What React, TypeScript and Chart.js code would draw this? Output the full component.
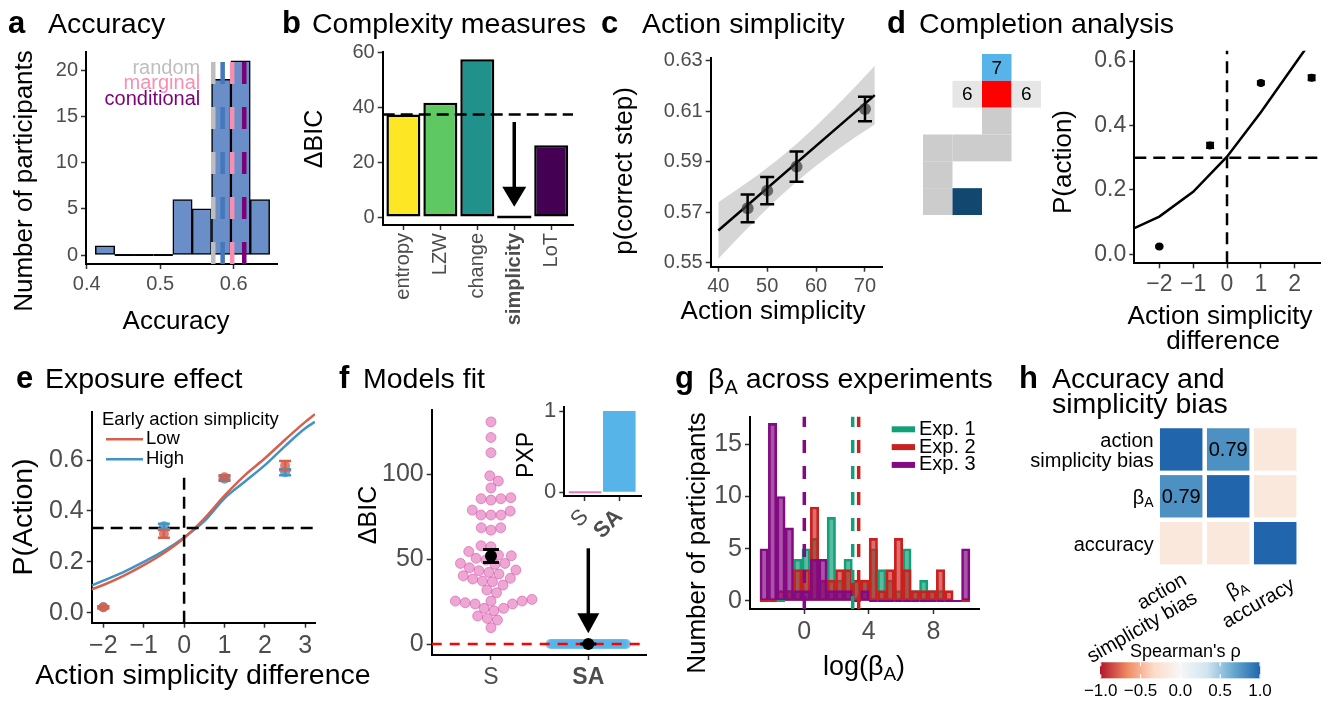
import React, { useEffect, useRef } from 'react';
import { Chart, registerables } from 'chart.js';

Chart.register(...registerables);

const FONT = "'Liberation Sans', Arial, Helvetica, sans-serif";
Chart.defaults.font.family = FONT;

/* ====================== DATA ====================== */
// (a) accuracy histogram
const aBinEdges = [0.4117, 0.4381, 0.4644, 0.4908, 0.5172, 0.5435, 0.5699, 0.5963, 0.6226, 0.649];
const aCounts = [1, 0, 0, 0, 6, 5, 19, 21, 6];
const aRefLabels = ['random', 'marginal', 'conditional'];
const aRefAccuracy = [0.5722, 0.598, 0.6144];
const aMeanAccuracy = 0.585;

// (b) complexity measures
const bMeasures = ['entropy', 'LZW', 'change', 'simplicity', 'LoT'];
const bDeltaBIC = [37.3, 41.6, 57.5, 0, 26.1];
const bReferenceBIC = 37.3;
const bArrow = [34.6, 3.7];

// (c) action simplicity
const cSimplicity = [46, 50, 56, 70];
const cPCorrect = [0.5716, 0.5786, 0.5881, 0.6109];
const cSE = [0.0055, 0.0054, 0.006, 0.0048];
const cFitX = [40, 72];
const cFitY = [0.5628, 0.6164];
const cBandX = [40, 44, 48, 52, 56, 60, 64, 68, 72];
const cBandLo = [0.5516, 0.5598, 0.5677, 0.5752, 0.5821, 0.5884, 0.5943, 0.5997, 0.6048];
const cBandHi = [0.574, 0.5792, 0.5847, 0.5906, 0.5971, 0.6042, 0.6118, 0.6197, 0.628];

// (d) completion analysis
const dDiff = [-2, -0.5, 1, 2.5];
const dPAction = [0.024, 0.338, 0.532, 0.548];
const dSE = [0.003, 0.008, 0.005, 0.008];
const dCurveX = [-2.74, -2, -1, 0, 1, 2, 2.74];
const dCurveY = [0.081, 0.117, 0.194, 0.303, 0.441, 0.59, 0.7];
const dChance = 0.3;
const dGridCol = [2, 1, 2, 3, 2, 0, 1, 2, 0, 0, 1];
const dGridRow = [0, 1, 1, 1, 2, 3, 3, 3, 4, 5, 5];
const dGridKind = ['next', 'option', 'current', 'option', 'path', 'path', 'path', 'path', 'path', 'path', 'start'];
const dGridLabel = ['7', '6', '', '6', '', '', '', '', '', '', ''];

// (e) exposure effect
const eCurveX = [-2.29, -2, -1.5, -1, -0.5, 0, 0.5, 1, 1.5, 2, 2.5, 3, 3.24];
const eLowCurve = [0.092, 0.109, 0.145, 0.187, 0.235, 0.294, 0.37, 0.46, 0.54, 0.607, 0.68, 0.75, 0.78];
const eHighCurve = [0.107, 0.126, 0.16, 0.2, 0.243, 0.296, 0.36, 0.45, 0.515, 0.58, 0.655, 0.725, 0.75];
const eDiff = [-2, -0.5, 1, 2.5];
const eLowP = [0.022, 0.31, 0.532, 0.578];
const eLowSE = [0.004, 0.015, 0.008, 0.018];
const eHighP = [0.022, 0.34, 0.527, 0.552];
const eHighSE = [0.004, 0.01, 0.008, 0.012];
const eChance = 0.333;
const eVLineTop = 0.535;

// (f) models fit
const fModels = ['S', 'SA'];
const fDeltaS = [130.9, 121.7, 112.7, 99.1, 96.0, 92.0, 86.2, 85.6, 84.8, 85.6, 78.9, 76.0, 76.0, 76.0, 78.3, 68.5, 67.1, 68.5, 57.9, 57.3, 52.4, 49.5, 50.5, 47.5, 47.5, 44.9, 46.9, 41.2, 43.2, 42.2, 43.6, 37.1, 34.7, 38.7, 38.3, 36.7, 40.2, 30.2, 31.8, 23.6, 25.3, 24.3, 26.3, 23.6, 25.3, 25.3, 21.0, 19.6, 21.0, 16.5, 14.1, 15.1, 9.6, 52.0, 54.5];
const fDeltaSA = [0, 0, 0, 0, 0, 0, 0, 0, 0, 0, 0, 0, 0, 0, 0, 0, 0, 0, 0, 0, 0, 0, 0, 0, 0, 0, 0, 0, 0, 0, 0, 0, 0, 0, 0, 0, 0, 0, 0, 0, 0, 0, 0, 0, 0, 0, 0, 0, 0, 0, 0, 0, 0, 0, 0];
const fMean = [51.9, 0];
const fSE = [3.8, 0];
const fPXP = [0, 1];
const fArrow = [56.4, 6.3];

// (g) beta_A across experiments
const gBinEdges = [-2.75, -2.229, -1.708, -1.188, -0.667, -0.146, 0.375, 0.896, 1.416, 1.937, 2.458, 2.979, 3.5, 4.02, 4.541, 5.062, 5.583, 6.104, 6.624, 7.145, 7.666, 8.187, 8.708, 9.229, 9.749, 10.27];
const gExp1 = [0, 0, 0, 1, 4, 5, 6, 2, 8, 2, 4, 2, 2, 5, 3, 2, 1, 5, 1, 2, 1, 1, 0, 0, 0];
const gExp2 = [0, 0, 1, 1, 3, 3, 9, 2, 2, 3, 3, 2, 2, 6, 1, 3, 6, 3, 1, 1, 1, 3, 1, 0, 0];
const gExp3 = [5, 17, 10, 7, 1, 1, 4, 4, 1, 1, 1, 0, 1, 0, 0, 0, 0, 0, 0, 0, 0, 0, 0, 0, 5];
const gExpNames = ['Exp. 1', 'Exp. 2', 'Exp. 3'];
const gMedianLog = [3.0, 3.37, 0.0];

// (h) correlations
const hVars = ['action\nsimplicity bias', 'β_A', 'accuracy'];
const hRho = [
  [1, 0.79, -0.18],
  [0.79, 1, -0.18],
  [-0.18, -0.18, 1],
];
const hLegendTicks = [-1, -0.5, 0, 0.5, 1];

/* ====================== STYLE / LAYOUT ====================== */
const TICK = '#4d4d4d';
const A_REF_COLORS = ['#bebebe', '#f88fb0', '#7a0177'];
const A_MEAN_COLOR = '#4477bb';
const B_COLORS = ['#fde725', '#5ec962', '#21918c', '#3b528b', '#440154'];
const D_KIND_COLOR: any = { next: '#56b4e9', option: '#e6e6e6', current: '#ff0000', path: '#cccccc', start: '#124870' };
const E_LOW = '#d6604d';
const E_HIGH = '#4393c3';
const F_PINK = '#e377c2';
const F_BLUE = '#56b4e9';
const G_LINE = ['#13a079', '#c9211e', '#830a83'];
const G_FILL = ['rgba(19,160,121,0.7)', 'rgba(201,33,30,0.65)', 'rgba(131,10,131,0.7)'];
const RDBU = ['#b2182b', '#ef8a62', '#fddbc7', '#f7f7f7', '#d1e5f0', '#67a9cf', '#2166ac'];

const A_RECT = { left: 0, top: 30, width: 290, height: 320 };
const A_AREA = { x0: 86, y0: 52, x1: 277, y1: 264 };
const B_RECT = { left: 280, top: 30, width: 300, height: 320 };
const B_AREA = { x0: 382.7, y0: 52, x1: 573, y1: 225 };
const C_RECT = { left: 580, top: 35, width: 310, height: 315 };
const C_AREA = { x0: 710.7, y0: 57.7, x1: 882.6, y1: 266.7 };
const DG_RECT = { left: 923, top: 54, width: 118, height: 161 };
const D_RECT = { left: 1040, top: 30, width: 290, height: 330 };
const D_AREA = { x0: 1134.3, y0: 50.7, x1: 1320, y1: 263.3 };
const E_RECT = { left: 0, top: 390, width: 385, height: 314 };
const E_AREA = { x0: 91.7, y0: 411.7, x1: 315, y1: 622.7 };
const F_RECT = { left: 335, top: 388, width: 320, height: 316 };
const F_AREA = { x0: 431.7, y0: 410, x1: 646.7, y1: 655 };
const F_RANGE = { xmin: -0.609, xmax: 1.6, ymin: -6.48, ymax: 137.9 };
const FI_RECT = { left: 505, top: 388, width: 145, height: 152 };
const FI_AREA = { x0: 564.3, y0: 406.7, x1: 641.7, y1: 496 };
const G_RECT = { left: 640, top: 395, width: 345, height: 309 };
const G_AREA = { x0: 750, y0: 416.7, x1: 979.3, y1: 609 };
const H_RECT = { left: 1000, top: 420, width: 330, height: 280 };
const H_AREA = { x0: 1157.7, y0: 426, x1: 1298.7, y1: 566.6 };
const H_LABEL_ANGLE = 30;
const HC_RECT = { left: 1080, top: 630, width: 200, height: 74 };
const HC_AREA = { x0: 1100.7, y0: 662.3, x1: 1260, y1: 678.3 };

const TITLES = [
  { tag: 'a', x: 8, tx: 48, base: 33, lines: ['Accuracy'] },
  { tag: 'b', x: 282, tx: 312, base: 33, lines: ['Complexity measures'] },
  { tag: 'c', x: 601, tx: 642, base: 33, lines: ['Action simplicity'] },
  { tag: 'd', x: 887, tx: 919, base: 33, lines: ['Completion analysis'] },
  { tag: 'e', x: 16, tx: 45, base: 388, lines: ['Exposure effect'] },
  { tag: 'f', x: 339, tx: 363, base: 388, lines: ['Models fit'] },
  { tag: 'g', x: 675, tx: 708, base: 388, lines: ['β_A across experiments'] },
  { tag: 'h', x: 1019, tx: 1052, base: 388, lines: ['Accuracy and', 'simplicity bias'] },
];

/* ====================== HELPERS ====================== */
const minus = (v: number, d = 0) => (v < 0 ? '\u2212' : '') + Math.abs(v).toFixed(d);

function hexRgb(h: string) {
  return [parseInt(h.slice(1, 3), 16), parseInt(h.slice(3, 5), 16), parseInt(h.slice(5, 7), 16)];
}
function rdbu(v: number) {
  const n = RDBU.length - 1;
  const t = ((Math.max(-1, Math.min(1, v)) + 1) / 2) * n;
  const i = Math.min(Math.floor(t), n - 1);
  const f = t - i;
  const a = hexRgb(RDBU[i]);
  const b = hexRgb(RDBU[i + 1]);
  const c = a.map((av, k) => Math.round(av + (b[k] - av) * f));
  return `rgb(${c[0]},${c[1]},${c[2]})`;
}

function rich(ctx: any, text: string, x: number, y: number, size: number, color: string, align = 'left', weight = 'normal') {
  const segs: any[] = [];
  let buf = '';
  for (let i = 0; i < text.length; i++) {
    if (text[i] === '_' && i + 1 < text.length) {
      if (buf) segs.push({ t: buf, sub: false });
      buf = '';
      segs.push({ t: text[i + 1], sub: true });
      i++;
    } else buf += text[i];
  }
  if (buf) segs.push({ t: buf, sub: false });
  const fMain = `${weight} ${size}px ${FONT}`;
  const fSub = `${weight} ${Math.round(size * 0.7)}px ${FONT}`;
  ctx.save();
  ctx.fillStyle = color;
  ctx.textBaseline = 'middle';
  ctx.textAlign = 'left';
  const widths = segs.map((s) => {
    ctx.font = s.sub ? fSub : fMain;
    return ctx.measureText(s.t).width;
  });
  const total = widths.reduce((p: number, q: number) => p + q, 0);
  let sx = align === 'right' ? x - total : align === 'center' ? x - total / 2 : x;
  segs.forEach((s, i) => {
    ctx.font = s.sub ? fSub : fMain;
    ctx.fillText(s.t, sx, s.sub ? y + size * 0.25 : y);
    sx += widths[i];
  });
  ctx.restore();
  return total;
}

// axis title placed at page coordinates (cx, cy); rot in degrees
function T(t: string, cx: number, cy: number, size: number, rot = 0) {
  return { t, cx, cy, size, rot };
}

function baseOpts(rect: any, area: any, hidden = false) {
  return {
    responsive: false,
    maintainAspectRatio: false,
    animation: false,
    events: [],
    layout: {
      autoPadding: false,
      padding: {
        left: hidden ? area.x0 - rect.left : 0,
        top: area.y0 - rect.top,
        right: rect.left + rect.width - area.x1,
        bottom: hidden ? rect.top + rect.height - area.y1 : 0,
      },
    },
    plugins: { legend: { display: false }, tooltip: { enabled: false }, title: { display: false } },
  };
}

function axis(o: any) {
  const horizontal = !!o.horizontal;
  return {
    type: 'linear',
    display: true,
    min: o.min,
    max: o.max,
    offset: false,
    reverse: !!o.reverse,
    afterBuildTicks: (s: any) => {
      s.ticks = o.ticks.map((v: number) => ({ value: v }));
    },
    afterFit: (s: any) => {
      if (horizontal) s.height = o.box;
      else s.width = o.box;
    },
    grid: { display: true, drawOnChartArea: false, drawTicks: true, tickLength: 5, tickWidth: 1.5, color: '#333333', tickColor: '#333333', offset: false },
    border: { display: true, color: '#000000', width: 2 },
    ticks: {
      autoSkip: false,
      maxRotation: o.rotation || 0,
      minRotation: o.rotation || 0,
      padding: o.tickPad ?? 3,
      color: TICK,
      font: o.tickFont || { size: o.tickSize || 20 },
      callback: (v: any) => (o.fmt ? o.fmt(Number(v)) : String(v)),
    },
    title: { display: false },
  };
}

function hidden(min: number, max: number, reverse = false) {
  return { type: 'linear', display: false, min, max, reverse };
}

function drawLines(chart: any, list: any[]) {
  const { ctx, chartArea: ca } = chart;
  const xs = chart.scales.x;
  const ys = chart.scales.y;
  for (const l of list) {
    ctx.save();
    ctx.beginPath();
    ctx.rect(ca.left, ca.top - 1, ca.right - ca.left, ca.bottom - ca.top + 2);
    ctx.clip();
    ctx.strokeStyle = l.color;
    ctx.lineWidth = l.width;
    ctx.setLineDash(l.dash || []);
    ctx.lineCap = 'butt';
    ctx.beginPath();
    if (l.kind === 'h') {
      const py = ys.getPixelForValue(l.at);
      const x0 = l.from != null ? xs.getPixelForValue(l.from) : ca.left;
      const x1 = l.to != null ? xs.getPixelForValue(l.to) : ca.right;
      ctx.moveTo(x0, py);
      ctx.lineTo(x1, py);
    } else {
      const px = xs.getPixelForValue(l.at);
      const y0 = l.from != null ? ys.getPixelForValue(l.from) : ca.bottom;
      const y1 = l.to != null ? ys.getPixelForValue(l.to) : ca.top;
      ctx.moveTo(px, y0);
      ctx.lineTo(px, y1);
    }
    ctx.stroke();
    ctx.restore();
  }
}

function extras(spec: any) {
  return {
    id: 'extras',
    afterDatasetDraw(chart: any, args: any) {
      drawLines(chart, (spec.lines || []).filter((l: any) => l.after === args.index));
    },
    afterDatasetsDraw(chart: any) {
      const ctx = chart.ctx;
      const xs = chart.scales.x;
      const ys = chart.scales.y;
      if (spec.zeroBars) {
        const metas = chart.getSortedVisibleDatasetMetas();
        for (let m = metas.length - 1; m >= 0; m--) {
          const meta = metas[m];
          if (meta.type !== 'bar') continue;
          meta.data.forEach((el: any, i: number) => {
            const parsed = meta.controller.getParsed(i);
            if (!parsed || parsed.y !== 0) return;
            const p = el.getProps(['x', 'y', 'width'], true);
            ctx.save();
            ctx.strokeStyle = el.options.borderColor;
            ctx.lineWidth = spec.zeroBars;
            ctx.beginPath();
            ctx.moveTo(p.x - p.width / 2, p.y);
            ctx.lineTo(p.x + p.width / 2, p.y);
            ctx.stroke();
            ctx.restore();
          });
        }
      }
      drawLines(chart, (spec.lines || []).filter((l: any) => l.after == null));
      for (const e of spec.errs || []) {
        ctx.save();
        ctx.strokeStyle = e.color;
        ctx.lineWidth = e.width;
        e.xs.forEach((xv: number, i: number) => {
          const px = xs.getPixelForValue(xv);
          const plo = ys.getPixelForValue(e.lo[i]);
          const phi = ys.getPixelForValue(e.hi[i]);
          ctx.beginPath();
          ctx.moveTo(px, plo);
          ctx.lineTo(px, phi);
          ctx.moveTo(px - e.cap, plo);
          ctx.lineTo(px + e.cap, plo);
          ctx.moveTo(px - e.cap, phi);
          ctx.lineTo(px + e.cap, phi);
          ctx.stroke();
        });
        ctx.restore();
      }
      for (const a of spec.arrows || []) {
        const px = xs.getPixelForValue(a.x);
        const p0 = ys.getPixelForValue(a.from);
        const p1 = ys.getPixelForValue(a.to);
        ctx.save();
        ctx.strokeStyle = a.color;
        ctx.fillStyle = a.color;
        ctx.lineWidth = a.width;
        ctx.beginPath();
        ctx.moveTo(px, p0);
        ctx.lineTo(px, p1 - a.headLen + 1);
        ctx.stroke();
        ctx.beginPath();
        ctx.moveTo(px, p1);
        ctx.lineTo(px - a.headW / 2, p1 - a.headLen);
        ctx.lineTo(px + a.headW / 2, p1 - a.headLen);
        ctx.closePath();
        ctx.fill();
        ctx.restore();
      }
      if (spec.titles && spec.rect) {
        for (const t of spec.titles) {
          ctx.save();
          ctx.translate(t.cx - spec.rect.left, t.cy - spec.rect.top);
          ctx.rotate((t.rot * Math.PI) / 180);
          rich(ctx, t.t, 0, 0, t.size, '#000000', 'center');
          ctx.restore();
        }
      }
      if (spec.after) spec.after(chart, ctx);
    },
  };
}

function ordered(list: any[]) {
  return list.map((d, i) => ({ ...d, order: list.length - i }));
}

function swarmOffsets(values: number[], pxPerY: number, diam: number) {
  const idx = values.map((_, i) => i).sort((p, q) => values[p] - values[q]);
  const placed: { x: number; y: number }[] = [];
  const out = values.map(() => 0);
  for (const i of idx) {
    const y = values[i] * pxPerY;
    const cands = [0];
    for (const p of placed) {
      const dy = Math.abs(p.y - y);
      if (dy < diam) {
        const dx = Math.sqrt(diam * diam - dy * dy);
        cands.push(p.x + dx, p.x - dx);
      }
    }
    cands.sort((p, q) => Math.abs(p) - Math.abs(q));
    let best = 0;
    for (const c of cands) {
      if (placed.every((p) => (p.x - c) ** 2 + (p.y - y) ** 2 >= diam * diam - 1e-6)) {
        best = c;
        break;
      }
    }
    placed.push({ x: best, y });
    out[i] = best;
  }
  return out;
}

/* ====================== PANELS ====================== */
function cfgA() {
  const centers = aCounts.map((_, i) => (aBinEdges[i] + aBinEdges[i + 1]) / 2);
  const dash = [22, 23];
  return {
    type: 'bar',
    data: {
      datasets: [
        {
          data: centers.map((x, i) => ({ x, y: aCounts[i] })),
          backgroundColor: '#6a8fc8',
          borderColor: '#000000',
          borderWidth: 1.5,
          borderSkipped: false,
          barPercentage: 1,
          categoryPercentage: 1,
        },
      ],
    },
    options: {
      ...baseOpts(A_RECT, A_AREA),
      scales: {
        x: axis({ horizontal: true, min: 0.399, max: 0.659, ticks: [0.4, 0.5, 0.6], fmt: (v: number) => v.toFixed(1), box: A_RECT.top + A_RECT.height - A_AREA.y1 }),
        y: axis({ min: -0.97, max: 21.95, ticks: [0, 5, 10, 15, 20], box: A_AREA.x0 - A_RECT.left }),
      },
    },
    plugins: [
      extras({
        rect: A_RECT,
        titles: [T('Number of participants', 25, 181, 26, -90), T('Accuracy', 176, 322, 26)],
        zeroBars: 2,
        lines: [
          { kind: 'v', at: aRefAccuracy[0], color: A_REF_COLORS[0], width: 4.5, dash },
          { kind: 'v', at: aMeanAccuracy, color: A_MEAN_COLOR, width: 4.5, dash },
          { kind: 'v', at: aRefAccuracy[1], color: A_REF_COLORS[1], width: 4.5, dash },
          { kind: 'v', at: aRefAccuracy[2], color: A_REF_COLORS[2], width: 4.5, dash },
        ],
        after: (chart: any, ctx: any) => {
          const xs = chart.scales.x;
          const ys = chart.scales.y;
          const labelY = [20.2, 18.5, 16.8];
          aRefLabels.forEach((t, i) => rich(ctx, t, xs.getPixelForValue(0.5545), ys.getPixelForValue(labelY[i]), 20, A_REF_COLORS[i], 'right'));
        },
      }),
    ],
  };
}

function cfgB() {
  return {
    type: 'bar',
    data: {
      datasets: [
        {
          data: bDeltaBIC.map((v, i) => ({ x: i, y: v })),
          backgroundColor: B_COLORS,
          borderColor: '#000000',
          borderWidth: 2.5,
          borderSkipped: false,
          barPercentage: 0.92,
          categoryPercentage: 1,
        },
      ],
    },
    options: {
      ...baseOpts(B_RECT, B_AREA),
      scales: {
        x: axis({
          horizontal: true, min: -0.56, max: 4.59, ticks: [0, 1, 2, 3, 4], fmt: (v: number) => bMeasures[v], box: B_RECT.top + B_RECT.height - B_AREA.y1,
          rotation: 90, tickFont: (c: any) => ({ size: 20, weight: c.index === 3 ? 'bold' : 'normal' }),
        }),
        y: axis({ min: -2.91, max: 60.1, ticks: [0, 20, 40, 60], box: B_AREA.x0 - B_RECT.left }),
      },
    },
    plugins: [
      extras({
        rect: B_RECT,
        titles: [T('ΔBIC', 315, 139, 25, -90)],
        zeroBars: 2.5,
        lines: [{ kind: 'h', at: bReferenceBIC, color: '#000000', width: 2.5, dash: [12, 6] }],
        arrows: [{ x: 3, from: bArrow[0], to: bArrow[1], color: '#000000', width: 3.5, headLen: 20, headW: 24 }],
      }),
    ],
  };
}

function cfgC() {
  return {
    type: 'scatter',
    data: {
      datasets: ordered([
        { type: 'line', data: cBandX.map((x, i) => ({ x, y: cBandLo[i] })), borderWidth: 0, pointRadius: 0, fill: false },
        { type: 'line', data: cBandX.map((x, i) => ({ x, y: cBandHi[i] })), borderWidth: 0, pointRadius: 0, fill: '-1', backgroundColor: 'rgba(200,200,200,0.75)' },
        { type: 'line', data: cFitX.map((x, i) => ({ x, y: cFitY[i] })), borderColor: '#000000', borderWidth: 2.5, pointRadius: 0, fill: false },
        { type: 'scatter', data: cSimplicity.map((x, i) => ({ x, y: cPCorrect[i] })), pointRadius: 6, pointBackgroundColor: 'rgba(60,60,60,0.72)', pointBorderWidth: 0 },
      ]),
    },
    options: {
      ...baseOpts(C_RECT, C_AREA),
      scales: {
        x: axis({ horizontal: true, min: 38.45, max: 73.6, ticks: [40, 50, 60, 70], box: C_RECT.top + C_RECT.height - C_AREA.y1 }),
        y: axis({ min: 0.5485, max: 0.6312, ticks: [0.55, 0.57, 0.59, 0.61, 0.63], fmt: (v: number) => v.toFixed(2), box: C_AREA.x0 - C_RECT.left }),
      },
    },
    plugins: [
      extras({
        rect: C_RECT,
        titles: [T('p(correct step)', 625, 171, 26, -90), T('Action simplicity', 773, 312, 26)],
        errs: [{ xs: cSimplicity, lo: cPCorrect.map((m, i) => m - cSE[i]), hi: cPCorrect.map((m, i) => m + cSE[i]), color: '#000000', width: 2.5, cap: 7 }],
      }),
    ],
  };
}

function cfgDGrid() {
  return {
    type: 'scatter',
    data: { datasets: [] },
    options: {
      ...baseOpts(DG_RECT, { x0: DG_RECT.left, y0: DG_RECT.top, x1: DG_RECT.left + DG_RECT.width, y1: DG_RECT.top + DG_RECT.height }, true),
      scales: { x: hidden(0, 4), y: hidden(0, 6, true) },
    },
    plugins: [
      extras({
        after: (chart: any, ctx: any) => {
          const xs = chart.scales.x;
          const ys = chart.scales.y;
          dGridCol.forEach((c, i) => {
            const x0 = xs.getPixelForValue(c);
            const x1 = xs.getPixelForValue(c + 1);
            const y0 = ys.getPixelForValue(dGridRow[i]);
            const y1 = ys.getPixelForValue(dGridRow[i] + 1);
            ctx.fillStyle = D_KIND_COLOR[dGridKind[i]];
            ctx.fillRect(x0, y0, x1 - x0, y1 - y0);
            if (dGridLabel[i]) rich(ctx, dGridLabel[i], (x0 + x1) / 2, (y0 + y1) / 2 + 1, 19, '#000000', 'center');
          });
        },
      }),
    ],
  };
}

function cfgD() {
  return {
    type: 'scatter',
    data: {
      datasets: ordered([
        { type: 'line', data: dCurveX.map((x, i) => ({ x, y: dCurveY[i] })), borderColor: '#000000', borderWidth: 2.5, pointRadius: 0, fill: false },
        { type: 'scatter', data: dDiff.map((x, i) => ({ x, y: dPAction[i] })), pointRadius: 4, pointBackgroundColor: '#000000', pointBorderWidth: 0 },
      ]),
    },
    options: {
      ...baseOpts(D_RECT, D_AREA),
      scales: {
        x: axis({ horizontal: true, min: -2.739, max: 2.747, ticks: [-2, -1, 0, 1, 2], fmt: (v: number) => minus(v), box: D_RECT.top + D_RECT.height - D_AREA.y1, tickSize: 23 }),
        y: axis({ min: -0.028, max: 0.632, ticks: [0, 0.2, 0.4, 0.6], fmt: (v: number) => v.toFixed(1), box: D_AREA.x0 - D_RECT.left, tickSize: 23 }),
      },
    },
    plugins: [
      extras({
        rect: D_RECT,
        titles: [T('P(action)', 1064, 162, 26, -90), T('Action simplicity', 1220, 316.5, 26), T('difference', 1223, 341.5, 26)],
        lines: [
          { kind: 'h', at: dChance, color: '#000000', width: 2.5, dash: [12, 7] },
          { kind: 'v', at: 0, color: '#000000', width: 2.5, dash: [12, 7] },
        ],
        errs: [{ xs: dDiff, lo: dPAction.map((m, i) => m - dSE[i]), hi: dPAction.map((m, i) => m + dSE[i]), color: '#000000', width: 2, cap: 4 }],
      }),
    ],
  };
}

function cfgE() {
  return {
    type: 'scatter',
    data: {
      datasets: ordered([
        { type: 'line', data: eCurveX.map((x, i) => ({ x, y: eHighCurve[i] })), borderColor: E_HIGH, borderWidth: 2.5, pointRadius: 0, fill: false, cubicInterpolationMode: 'monotone' },
        { type: 'line', data: eCurveX.map((x, i) => ({ x, y: eLowCurve[i] })), borderColor: E_LOW, borderWidth: 2.5, pointRadius: 0, fill: false, cubicInterpolationMode: 'monotone' },
        { type: 'scatter', data: eDiff.map((x, i) => ({ x, y: eHighP[i] })), pointRadius: 5, pointBackgroundColor: 'rgba(67,147,195,0.8)', pointBorderWidth: 0 },
        { type: 'scatter', data: eDiff.map((x, i) => ({ x, y: eLowP[i] })), pointRadius: 5, pointBackgroundColor: 'rgba(214,96,77,0.8)', pointBorderWidth: 0 },
      ]),
    },
    options: {
      ...baseOpts(E_RECT, E_AREA),
      scales: {
        x: axis({ horizontal: true, min: -2.287, max: 3.24, ticks: [-2, -1, 0, 1, 2, 3], fmt: (v: number) => minus(v), box: E_RECT.top + E_RECT.height - E_AREA.y1, tickSize: 25 }),
        y: axis({ min: -0.039, max: 0.79, ticks: [0, 0.2, 0.4, 0.6], fmt: (v: number) => v.toFixed(1), box: E_AREA.x0 - E_RECT.left, tickSize: 25 }),
      },
    },
    plugins: [
      extras({
        rect: E_RECT,
        titles: [T('P(Action)', 24, 517, 28.5, -90), T('Action simplicity difference', 203, 676.5, 28.5)],
        lines: [
          { kind: 'h', at: eChance, color: '#000000', width: 2.5, dash: [12, 7] },
          { kind: 'v', at: 0, to: eVLineTop, color: '#000000', width: 2.5, dash: [12, 7] },
        ],
        errs: [
          { xs: eDiff, lo: eHighP.map((m, i) => m - eHighSE[i]), hi: eHighP.map((m, i) => m + eHighSE[i]), color: E_HIGH, width: 2.5, cap: 6 },
          { xs: eDiff, lo: eLowP.map((m, i) => m - eLowSE[i]), hi: eLowP.map((m, i) => m + eLowSE[i]), color: E_LOW, width: 2.5, cap: 6 },
        ],
        after: (chart: any, ctx: any) => {
          const ca = chart.chartArea;
          rich(ctx, 'Early action simplicity', ca.left + 10.3, ca.top + 8.3, 18.5, '#000000');
          const items = [
            ['Low', E_LOW],
            ['High', E_HIGH],
          ];
          items.forEach(([t, c], i) => {
            const yy = ca.top + 27.6 + i * 20;
            ctx.save();
            ctx.strokeStyle = c;
            ctx.lineWidth = 2.5;
            ctx.beginPath();
            ctx.moveTo(ca.left + 14.3, yy);
            ctx.lineTo(ca.left + 51.3, yy);
            ctx.stroke();
            ctx.restore();
            rich(ctx, t, ca.left + 54.3, yy, 18.5, '#000000');
          });
        },
      }),
    ],
  };
}

function cfgF() {
  const pxPerY = (F_AREA.y1 - F_AREA.y0) / (F_RANGE.ymax - F_RANGE.ymin);
  const pxPerX = (F_AREA.x1 - F_AREA.x0) / (F_RANGE.xmax - F_RANGE.xmin);
  const offS = swarmOffsets(fDeltaS, pxPerY, 10).map((p) => p / pxPerX);
  const spreadSA = 0.78;
  const offSA = fDeltaSA.map((_, i) => (i / (fDeltaSA.length - 1) - 0.5) * spreadSA);
  return {
    type: 'scatter',
    data: {
      datasets: ordered([
        { type: 'scatter', data: fDeltaS.map((v, i) => ({ x: 0 + offS[i], y: v })), pointRadius: 5, pointBackgroundColor: 'rgba(227,112,185,0.62)', pointBorderColor: 'rgba(210,80,160,0.55)', pointBorderWidth: 1 },
        { type: 'scatter', data: fDeltaSA.map((v, i) => ({ x: 1 + offSA[i], y: v })), pointRadius: 5, pointBackgroundColor: 'rgba(86,180,233,0.6)', pointBorderWidth: 0 },
        { type: 'scatter', data: fMean.map((v, i) => ({ x: i, y: v })), pointRadius: 6, pointBackgroundColor: '#000000', pointBorderWidth: 0 },
      ]),
    },
    options: {
      ...baseOpts(F_RECT, F_AREA),
      scales: {
        x: axis({
          horizontal: true, min: F_RANGE.xmin, max: F_RANGE.xmax, ticks: [0, 1], fmt: (v: number) => fModels[v], box: F_RECT.top + F_RECT.height - F_AREA.y1,
          tickFont: (c: any) => ({ size: 23, weight: c.index === 1 ? 'bold' : 'normal' }), tickPad: 4,
        }),
        y: axis({ min: F_RANGE.ymin, max: F_RANGE.ymax, ticks: [0, 50, 100], box: F_AREA.x0 - F_RECT.left, tickSize: 25 }),
      },
    },
    plugins: [
      extras({
        rect: F_RECT,
        titles: [T('ΔBIC', 369, 515, 25, -90)],
        lines: [{ kind: 'h', at: 0, color: '#ff0000', width: 2.5, dash: [10, 8], after: 1 }],
        errs: [{ xs: [0, 1], lo: fMean.map((m, i) => m - fSE[i]), hi: fMean.map((m, i) => m + fSE[i]), color: '#000000', width: 3, cap: 8 }],
        arrows: [{ x: 1, from: fArrow[0], to: fArrow[1], color: '#000000', width: 3.5, headLen: 20, headW: 22 }],
      }),
    ],
  };
}

function cfgFInset() {
  return {
    type: 'bar',
    data: {
      datasets: [
        {
          data: fPXP.map((v, i) => ({ x: i, y: v })),
          backgroundColor: [F_PINK, F_BLUE],
          borderColor: [F_PINK, F_BLUE],
          borderWidth: 0,
          barPercentage: 0.95,
          categoryPercentage: 1,
        },
      ],
    },
    options: {
      ...baseOpts(FI_RECT, FI_AREA),
      scales: {
        x: axis({
          horizontal: true, min: -0.603, max: 1.653, ticks: [0, 1], fmt: (v: number) => fModels[v], box: FI_RECT.top + FI_RECT.height - FI_AREA.y1,
          rotation: 45, tickFont: (c: any) => ({ size: 22, weight: c.index === 1 ? 'bold' : 'normal' }),
        }),
        y: axis({ min: -0.046, max: 1.053, ticks: [0, 1], box: FI_AREA.x0 - FI_RECT.left, tickSize: 22 }),
      },
    },
    plugins: [extras({ rect: FI_RECT, titles: [T('PXP', 526.7, 455, 23, -90)], zeroBars: 2 })],
  };
}

function cfgG() {
  const centers = gExp1.map((_, i) => (gBinEdges[i] + gBinEdges[i + 1]) / 2);
  const series = [gExp1, gExp2, gExp3];
  const dash = [13, 13];
  return {
    type: 'bar',
    data: {
      datasets: ordered(
        series.map((s, k) => ({
          data: centers.map((x, i) => ({ x, y: s[i] })),
          backgroundColor: G_FILL[k],
          borderColor: G_LINE[k],
          borderWidth: 2,
          borderSkipped: false,
          barPercentage: 1,
          categoryPercentage: 1,
          grouped: false,
        }))
      ),
    },
    options: {
      ...baseOpts(G_RECT, G_AREA),
      scales: {
        x: axis({ horizontal: true, min: -3.367, max: 10.85, ticks: [0, 4, 8], box: G_RECT.top + G_RECT.height - G_AREA.y1, tickSize: 25 }),
        y: axis({ min: -0.766, max: 17.64, ticks: [0, 5, 10, 15], box: G_AREA.x0 - G_RECT.left, tickSize: 25 }),
      },
    },
    plugins: [
      extras({
        rect: G_RECT,
        titles: [T('Number of participants', 698, 543, 26, -90), T('log(β_A)', 864, 668, 27)],
        zeroBars: 2,
        lines: gMedianLog.map((m, k) => ({ kind: 'v', at: m, color: G_LINE[k], width: 3.5, dash })),
        after: (chart: any, ctx: any) => {
          const ca = chart.chartArea;
          gExpNames.forEach((t, k) => {
            const yy = ca.top + 12.6 + k * 17.8;
            ctx.save();
            ctx.strokeStyle = G_LINE[k];
            ctx.lineWidth = 6;
            ctx.beginPath();
            ctx.moveTo(ca.right - 87.6, yy);
            ctx.lineTo(ca.right - 64.3, yy);
            ctx.stroke();
            ctx.restore();
            rich(ctx, t, ca.right - 60.3, yy, 20, '#000000');
          });
        },
      }),
    ],
  };
}

function cfgH() {
  return {
    type: 'scatter',
    data: { datasets: [] },
    options: {
      ...baseOpts(H_RECT, H_AREA, true),
      scales: { x: hidden(-0.5, 2.5), y: hidden(-0.5, 2.5, true) },
    },
    plugins: [
      extras({
        after: (chart: any, ctx: any) => {
          const xs = chart.scales.x;
          const ys = chart.scales.y;
          const ca = chart.chartArea;
          const gap = 4.5;
          hRho.forEach((row, r) => {
            row.forEach((v, c) => {
              const x0 = xs.getPixelForValue(c - 0.5) + gap / 2;
              const x1 = xs.getPixelForValue(c + 0.5) - gap / 2;
              const y0 = ys.getPixelForValue(r - 0.5) + gap / 2;
              const y1 = ys.getPixelForValue(r + 0.5) - gap / 2;
              ctx.fillStyle = rdbu(v);
              ctx.fillRect(x0, y0, x1 - x0, y1 - y0);
              if (r !== c && Math.abs(v) >= 0.5) rich(ctx, v.toFixed(2), (x0 + x1) / 2, (y0 + y1) / 2 + 1, 20, '#000000', 'center');
            });
          });
          hVars.forEach((name, r) => {
            const lines = name.split('\n');
            const cy = ys.getPixelForValue(r);
            lines.forEach((ln, k) => rich(ctx, ln, ca.left - 4, cy + (k - (lines.length - 1) / 2) * 20 + 2, 20, '#000000', 'right'));
          });
          const ang = (H_LABEL_ANGLE * Math.PI) / 180;
          hVars.forEach((name, c) => {
            const lines = name.split('\n');
            const multi = lines.length > 1;
            const ax = xs.getPixelForValue(c) + (multi ? -1 : 13);
            const ay = ca.bottom + (multi ? 3.4 : 8.4);
            lines.forEach((ln, k) => {
              const off = k * 21;
              ctx.save();
              ctx.translate(ax + off * Math.sin(ang), ay + off * Math.cos(ang));
              ctx.rotate(-ang);
              rich(ctx, ln, 0, 10, 20, '#000000', 'right');
              ctx.restore();
            });
          });
        },
      }),
    ],
  };
}

function cfgHBar() {
  return {
    type: 'scatter',
    data: { datasets: [] },
    options: {
      ...baseOpts(HC_RECT, HC_AREA, true),
      scales: { x: hidden(-1, 1), y: hidden(0, 1) },
    },
    plugins: [
      extras({
        after: (chart: any, ctx: any) => {
          const xs = chart.scales.x;
          const ca = chart.chartArea;
          for (let px = Math.floor(ca.left); px < ca.right; px++) {
            ctx.fillStyle = rdbu(xs.getValueForPixel(px + 0.5));
            ctx.fillRect(px, ca.top, 1.2, ca.bottom - ca.top);
          }
          ctx.save();
          ctx.strokeStyle = '#ffffff';
          ctx.lineWidth = 1.2;
          hLegendTicks.forEach((v) => {
            const px = xs.getPixelForValue(v);
            ctx.beginPath();
            ctx.moveTo(px, ca.top);
            ctx.lineTo(px, ca.top + 4);
            ctx.moveTo(px, ca.bottom - 4);
            ctx.lineTo(px, ca.bottom);
            ctx.stroke();
            rich(ctx, minus(v, 1), px, ca.bottom + 13.4, 17, '#000000', 'center');
          });
          ctx.restore();
          rich(ctx, "Spearman's ρ", (ca.left + ca.right) / 2 + 5, ca.top - 10, 18, '#000000', 'center');
        },
      }),
    ],
  };
}

/* ====================== REACT ====================== */
function ChartCanvas({ rect, build }: any) {
  const ref = useRef<HTMLCanvasElement | null>(null);
  useEffect(() => {
    if (!ref.current) return;
    const chart = new Chart(ref.current, build());
    return () => chart.destroy();
  }, []);
  return (
    <canvas
      ref={ref}
      width={rect.width}
      height={rect.height}
      style={{ position: 'absolute', left: rect.left, top: rect.top, width: rect.width, height: rect.height }}
    />
  );
}

function richHtml(s: string) {
  const parts: any[] = [];
  let buf = '';
  for (let i = 0; i < s.length; i++) {
    if (s[i] === '_' && i + 1 < s.length) {
      if (buf) parts.push(buf);
      buf = '';
      parts.push(
        <span key={i} style={{ fontSize: '0.7em', position: 'relative', top: '0.3em' }}>
          {s[i + 1]}
        </span>
      );
      i++;
    } else buf += s[i];
  }
  if (buf) parts.push(buf);
  return parts;
}

const TITLE_SIZE = 28.5;
const TAG_SIZE = 31;

export default function App() {
  return (
    <div style={{ position: 'absolute', left: 0, top: 0, width: 1330, height: 704, background: '#ffffff', overflow: 'hidden', fontFamily: FONT }}>
      <ChartCanvas rect={A_RECT} build={cfgA} />
      <ChartCanvas rect={B_RECT} build={cfgB} />
      <ChartCanvas rect={C_RECT} build={cfgC} />
      <ChartCanvas rect={DG_RECT} build={cfgDGrid} />
      <ChartCanvas rect={D_RECT} build={cfgD} />
      <ChartCanvas rect={E_RECT} build={cfgE} />
      <ChartCanvas rect={F_RECT} build={cfgF} />
      <ChartCanvas rect={FI_RECT} build={cfgFInset} />
      <ChartCanvas rect={G_RECT} build={cfgG} />
      <ChartCanvas rect={H_RECT} build={cfgH} />
      <ChartCanvas rect={HC_RECT} build={cfgHBar} />
      {TITLES.map((t) => (
        <React.Fragment key={t.tag}>
          <div style={{ position: 'absolute', left: t.x, top: t.base - 0.8465 * TAG_SIZE, fontSize: TAG_SIZE, fontWeight: 'bold', lineHeight: 1, whiteSpace: 'nowrap' }}>{t.tag}</div>
          {t.lines.map((ln, i) => (
            <div key={i} style={{ position: 'absolute', left: t.tx, top: t.base + i * 25 - 0.8465 * TITLE_SIZE, fontSize: TITLE_SIZE, lineHeight: 1, whiteSpace: 'nowrap' }}>
              {richHtml(ln)}
            </div>
          ))}
        </React.Fragment>
      ))}
    </div>
  );
}
